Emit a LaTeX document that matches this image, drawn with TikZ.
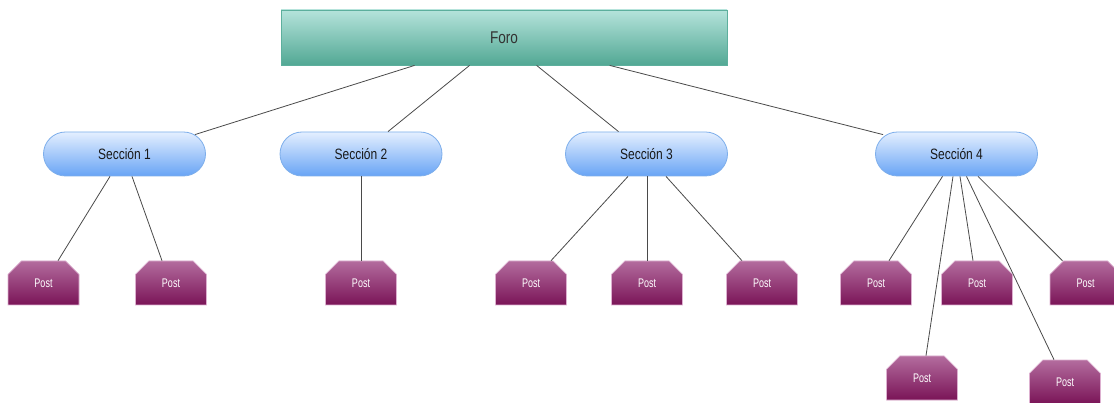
\documentclass[tikz,border=0pt]{standalone}
\usepackage{fontspec}
\setmainfont{Liberation Sans}[FakeStretch=0.8]
\newfontfamily\postfont{Liberation Sans}[FakeStretch=0.72]
\usetikzlibrary{shapes.misc}
\definecolor{forotop}{HTML}{B5E3DB}
\definecolor{forobot}{HTML}{52A894}
\definecolor{foroline}{HTML}{5DAF9D}
\definecolor{sectop}{HTML}{E4EFFF}
\definecolor{secbot}{HTML}{68A4F5}
\definecolor{secline}{HTML}{7DAEEB}
\definecolor{posttop}{HTML}{B36C9E}
\definecolor{postbot}{HTML}{7A1457}
\definecolor{postline}{HTML}{DDB0D0}
\definecolor{linkcol}{HTML}{4A4A4A}
\tikzset{
  forobox/.style={rectangle, draw=foroline, line width=0.8pt,
    top color=forotop, bottom color=forobot,
    minimum width=446pt, minimum height=55pt, inner sep=0pt,
    text=black!80, font=\fontsize{17}{20}\selectfont},
  secbox/.style={rectangle, rounded corners=22pt, draw=secline, line width=0.8pt,
    top color=sectop, bottom color=secbot,
    minimum width=162pt, minimum height=44pt, inner sep=0pt,
    text=black!90, font=\fontsize{15}{18}\selectfont},
  postbox/.style={chamfered rectangle, chamfered rectangle xsep=8pt,
    chamfered rectangle ysep=12pt,
    chamfered rectangle corners={north west, north east},
    draw=postline, line width=0.6pt,
    top color=posttop, bottom color=postbot,
    minimum width=71pt, minimum height=44pt, inner sep=0pt,
    text=white, font=\postfont\fontsize{12.5}{15}\selectfont},
  link/.style={draw=linkcol, line width=0.8pt}
}
\begin{document}
\begin{tikzpicture}[x=1pt, y=-1pt]
\useasboundingbox (0,0) rectangle (1114,403);
\fill[white] (0,0) rectangle (1114,403);

% root
\node[forobox] (foro) at (504,37.5) {Foro};

% sections
\node[secbox] (s1) at (124.5,154) {Sección 1};
\node[secbox] (s2) at (361,154) {Sección 2};
\node[secbox] (s3) at (646.5,154) {Sección 3};
\node[secbox] (s4) at (956.5,154) {Sección 4};

% posts
\node[postbox] (p11) at (43.5,283) {Post};
\node[postbox] (p12) at (171,283) {Post};
\node[postbox] (p21) at (361,283) {Post};
\node[postbox] (p31) at (531,283) {Post};
\node[postbox] (p32) at (647,283) {Post};
\node[postbox] (p33) at (762,283) {Post};
\node[postbox] (p41) at (876,283) {Post};
\node[postbox] (p42) at (977,283) {Post};
\node[postbox] (p43) at (1085.5,283) {Post};
\node[postbox] (p44) at (922,378) {Post};
\node[postbox] (p45) at (1065,382) {Post};

% root to sections
\draw[link] ([xshift=134pt]foro.south west) -- ([xshift=-11pt,yshift=-3pt]s1.north east);
\draw[link] ([xshift=189pt]foro.south west) -- ([xshift=27pt]s2.north);
\draw[link] ([xshift=256pt]foro.south west) -- ([xshift=-28pt]s3.north);
\draw[link] ([xshift=329pt]foro.south west) -- ([xshift=8pt,yshift=-3pt]s4.north west);

% sections to posts
\draw[link] ([xshift=-14.5pt]s1.south) -- ([xshift=14.5pt]p11.north);
\draw[link] ([xshift=7.5pt]s1.south) -- ([xshift=-9pt]p12.north);
\draw[link] (s2.south) -- (p21.north);
\draw[link] ([xshift=-18.5pt]s3.south) -- ([xshift=20pt]p31.north);
\draw[link] ([xshift=0.5pt]s3.south) -- (p32.north);
\draw[link] ([xshift=19.5pt]s3.south) -- ([xshift=-20pt]p33.north);
\draw[link] ([xshift=-14pt]s4.south) -- ([xshift=13pt]p41.north);
\draw[link] ([xshift=-3.5pt]s4.south) -- ([xshift=4pt]p44.north);
\draw[link] ([xshift=3.5pt]s4.south) -- ([xshift=-4pt]p42.north);
\draw[link] ([xshift=10pt]s4.south) -- ([xshift=-11pt]p45.north);
\draw[link] ([xshift=21.5pt]s4.south) -- ([xshift=-23pt]p43.north);
\end{tikzpicture}
\end{document}
